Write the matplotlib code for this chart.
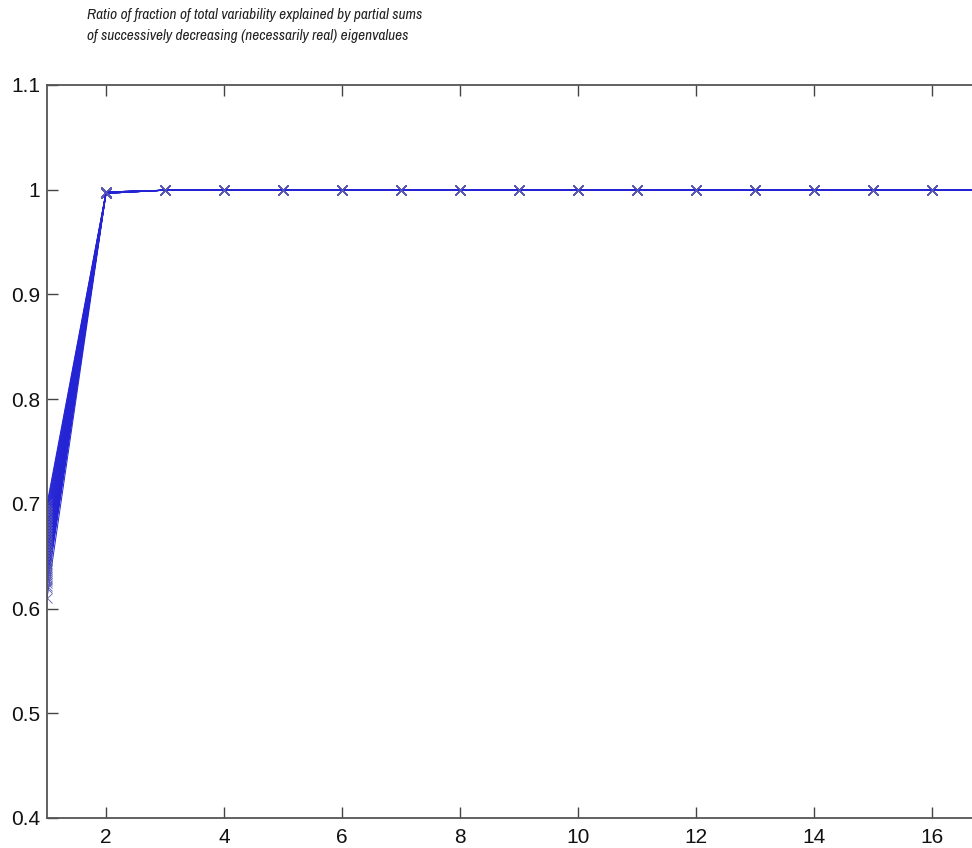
import matplotlib.pyplot as plt
import numpy as np
from matplotlib.ticker import FormatStrFormatter

# Datos: cada serie sube desde x=1 hasta ~1 en x=2
x = np.arange(1, 18)
inicio = [0.610, 0.620, 0.622, 0.624, 0.626, 0.628, 0.630, 0.632, 0.634, 0.636,
          0.638, 0.640, 0.643, 0.646, 0.649, 0.652, 0.655, 0.658, 0.661, 0.664,
          0.667, 0.670, 0.673, 0.676, 0.679, 0.682, 0.685, 0.688, 0.691, 0.694,
          0.697, 0.700]
segundo = [0.9965, 0.9970, 0.9975, 0.9978]
tercero = 0.9995

plt.rcParams['font.family'] = ['Liberation Sans', 'DejaVu Sans']
fig = plt.figure(figsize=(9.72, 8.48), dpi=100)
ax = fig.add_axes([0.0484, 0.0354, 0.96, 0.8644])

for j, y0 in enumerate(inicio):
    y = np.ones(len(x))
    y[0] = y0
    y[1] = segundo[j % len(segundo)]
    y[2] = tercero
    ax.plot(x, y, color="#2424d4", lw=0.7, marker="x", ms=7, mew=0.6,
            markeredgecolor="#5a5ab4")

ax.set_xlim(1, 16.82)
ax.set_ylim(0.4, 1.1)
ax.set_xticks(range(2, 17, 2))
ax.set_yticks(np.arange(0.4, 1.11, 0.1))
ax.yaxis.set_major_formatter(FormatStrFormatter("%g"))
ax.tick_params(direction="in", length=8, width=1, colors="#444444",
               labelcolor="#111111", labelsize=15, top=True, right=False)
ax.tick_params(axis="x", pad=7)
ax.tick_params(axis="y", pad=5)
for s in ["left", "bottom", "top"]:
    ax.spines[s].set_color("#555555")
    ax.spines[s].set_linewidth(1.3)
ax.spines["right"].set_visible(False)

titulo = fig.text(0.0895, 0.99, "Ratio of fraction of total variability explained by partial sums\n"
                  "of successively decreasing (necessarily real) eigenvalues",
                  ha="left", va="top", style="italic", fontsize=12, color="#222222",
                  family=["Archivo Narrow", "DejaVu Sans"], linespacing=1.55)

# ajustar el tamaño del titulo al ancho de la referencia
fig.canvas.draw()
ancho = titulo.get_window_extent().width
titulo.set_fontsize(12 * 335 / ancho)

fig.savefig("out.png", dpi=100)
